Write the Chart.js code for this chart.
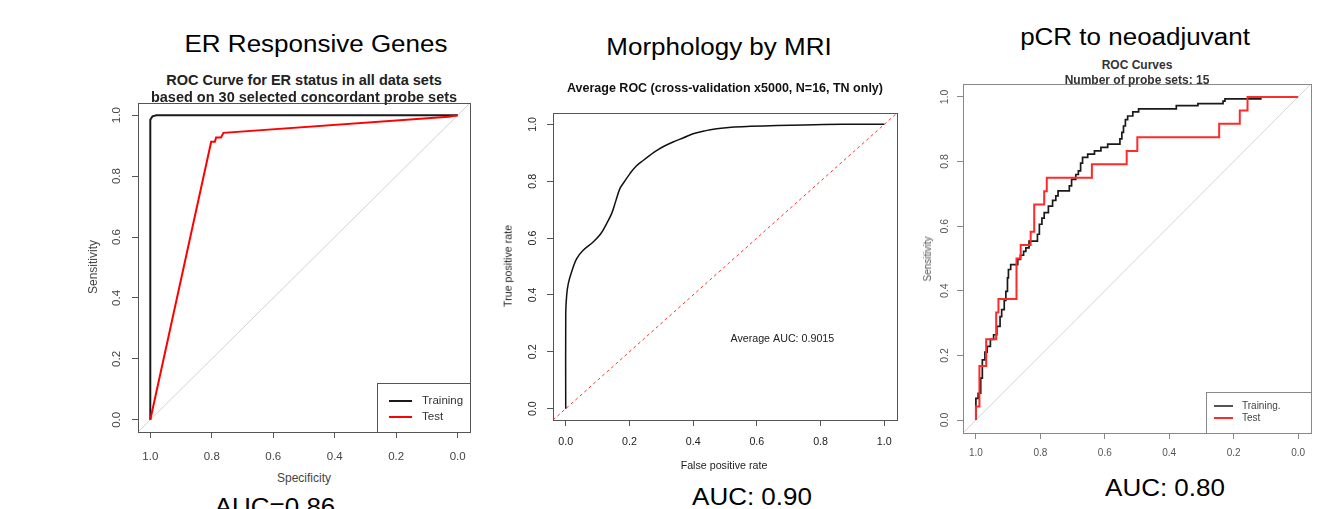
<!DOCTYPE html>
<html>
<head>
<meta charset="utf-8">
<script src="https://cdn.jsdelivr.net/npm/chart.js@4.4.1/dist/chart.umd.min.js"></script>
<style>
  body { margin: 0; background: #fff; width: 1317px; height: 509px; overflow: hidden; position: relative;
         font-family: "Liberation Sans", Arial, sans-serif; }
  canvas { position: absolute; }
  .t { position: absolute; white-space: nowrap; line-height: 1; }
</style>
</head>
<body>
<canvas id="er" width="395" height="375" style="left:85px;top:95px"></canvas>
<canvas id="mri" width="405" height="360" style="left:500px;top:100px"></canvas>
<canvas id="pcr" width="402" height="385" style="left:915px;top:75px"></canvas>
<script>
// ---- data ----
const tickValues = [0, 0.2, 0.4, 0.6, 0.8, 1.0];

// ER responsive genes (specificity, sensitivity)
const erTrainSpec = [1.0, 1.0, 0.993, 0.98, 0.0];
const erTrainSens = [0.0, 0.985, 0.996, 1.0, 1.0];
const erTestSpec = [1.0, 0.802, 0.79, 0.786, 0.77, 0.762, 0.03, 0.0];
const erTestSens = [0.0, 0.913, 0.913, 0.927, 0.927, 0.942, 0.995, 1.0];

// Morphology by MRI (false positive rate, true positive rate)
const mriFpr = [0, 0, 0.003, 0.008, 0.018, 0.034, 0.054, 0.086, 0.11, 0.128, 0.144, 0.157, 0.17, 0.185,
                0.201, 0.22, 0.243, 0.265, 0.285, 0.31, 0.337, 0.37, 0.4, 0.44, 0.474, 0.52, 0.579, 0.663, 0.75, 0.87, 1.0];
const mriTpr = [0, 0.334, 0.40, 0.44, 0.48, 0.527, 0.556, 0.586, 0.615, 0.65, 0.686, 0.73, 0.774, 0.80,
                0.826, 0.852, 0.873, 0.892, 0.908, 0.924, 0.938, 0.953, 0.967, 0.978, 0.985, 0.99, 0.993, 0.996, 0.998, 1.0, 1.0];

// pCR to neoadjuvant (specificity, sensitivity)
const pcrTestSpec = [1.0, 1.0, 0.989, 0.989, 0.968, 0.968, 0.937, 0.937, 0.93, 0.93, 0.874, 0.874, 0.861, 0.861,
                     0.83, 0.83, 0.819, 0.819, 0.788, 0.788, 0.78, 0.78, 0.64, 0.64, 0.532, 0.532, 0.499, 0.499,
                     0.245, 0.245, 0.181, 0.181, 0.157, 0.157, 0.0];
const pcrTestSens = [0, 0.042, 0.042, 0.167, 0.167, 0.25, 0.25, 0.333, 0.333, 0.375, 0.375, 0.5, 0.5, 0.542,
                     0.542, 0.583, 0.583, 0.667, 0.667, 0.708, 0.708, 0.75, 0.75, 0.792, 0.792, 0.833, 0.833, 0.875,
                     0.875, 0.917, 0.917, 0.958, 0.958, 1.0, 1.0];
const pcrTrainSpec = [1.0, 1.0, 0.993, 0.993, 0.985, 0.985, 0.98, 0.98, 0.972, 0.972, 0.965, 0.965, 0.955, 0.955,
                      0.945, 0.945, 0.935, 0.935, 0.925, 0.925, 0.92, 0.92, 0.912, 0.912, 0.907, 0.907, 0.902, 0.902,
                      0.899, 0.899, 0.892, 0.892, 0.87, 0.87, 0.862, 0.862, 0.852, 0.852, 0.845, 0.845, 0.835, 0.835,
                      0.809, 0.809, 0.803, 0.803, 0.795, 0.795, 0.788, 0.788, 0.775, 0.775, 0.762, 0.762, 0.752, 0.752,
                      0.745, 0.745, 0.71, 0.71, 0.703, 0.703, 0.69, 0.69, 0.682, 0.682, 0.675, 0.675, 0.669, 0.669,
                      0.653, 0.653, 0.632, 0.632, 0.612, 0.612, 0.591, 0.591, 0.553, 0.553, 0.547, 0.547, 0.542, 0.542,
                      0.536, 0.536, 0.529, 0.529, 0.513, 0.513, 0.495, 0.495, 0.378, 0.378, 0.311, 0.311, 0.233, 0.233,
                      0.227, 0.227, 0.113];
const pcrTrainSens = [0, 0.067, 0.067, 0.083, 0.083, 0.13, 0.13, 0.186, 0.186, 0.21, 0.21, 0.228, 0.228, 0.25,
                      0.25, 0.264, 0.264, 0.29, 0.29, 0.32, 0.32, 0.342, 0.342, 0.37, 0.37, 0.398, 0.398, 0.44,
                      0.44, 0.466, 0.466, 0.481, 0.481, 0.497, 0.497, 0.51, 0.51, 0.522, 0.522, 0.533, 0.533, 0.554,
                      0.554, 0.575, 0.575, 0.606, 0.606, 0.625, 0.625, 0.642, 0.642, 0.662, 0.662, 0.68, 0.68, 0.694,
                      0.694, 0.709, 0.709, 0.725, 0.725, 0.745, 0.745, 0.76, 0.76, 0.771, 0.771, 0.795, 0.795, 0.813,
                      0.813, 0.823, 0.823, 0.833, 0.833, 0.844, 0.844, 0.854, 0.854, 0.87, 0.87, 0.89, 0.89, 0.91,
                      0.91, 0.93, 0.93, 0.941, 0.941, 0.954, 0.954, 0.963, 0.963, 0.973, 0.973, 0.979, 0.979, 0.987,
                      0.987, 0.994, 0.994];

// chance lines (abline across the whole plot box)
const chanceDesc = { x: [1.04, -0.04], y: [-0.04, 1.04] };
const chanceAsc = { x: [-0.04, 1.04], y: [-0.04, 1.04] };

const FONT = '"Liberation Sans", Arial, sans-serif';
const pts = (xs, ys) => xs.map((x, i) => ({ x, y: ys[i] }));

// plot box, R-style legend and in-plot note
const frame = {
  id: 'frame',
  afterDatasetsDraw(chart, args, o) {
    const { ctx, chartArea: a } = chart;
    ctx.save();
    if (o.legend) {
      const L = o.legend;
      const x0 = a.right - L.w, y0 = a.bottom - L.h;
      ctx.fillStyle = '#fff';
      ctx.fillRect(x0, y0, L.w, L.h);
      ctx.strokeStyle = o.color;
      ctx.lineWidth = 1;
      ctx.strokeRect(x0 + 0.5, y0 + 0.5, L.w, L.h);
      L.items.forEach((it, i) => {
        const y = a.bottom - L.rows[i];
        ctx.strokeStyle = it.color;
        ctx.lineWidth = it.width;
        ctx.beginPath();
        ctx.moveTo(a.right - L.line[0], y);
        ctx.lineTo(a.right - L.line[1], y);
        ctx.stroke();
        ctx.fillStyle = o.textColor;
        ctx.font = L.size + 'px ' + FONT;
        ctx.textBaseline = 'middle';
        ctx.textAlign = 'left';
        ctx.fillText(it.label, a.right - L.text, y);
      });
    }
    if (o.note) {
      ctx.fillStyle = o.textColor;
      ctx.font = o.note.size + 'px ' + FONT;
      ctx.textAlign = 'center';
      ctx.textBaseline = 'middle';
      ctx.fillText(o.note.text, chart.scales.x.getPixelForValue(o.note.x), chart.scales.y.getPixelForValue(o.note.y));
    }
    ctx.strokeStyle = o.color;
    ctx.lineWidth = 1;
    ctx.strokeRect(Math.round(a.left) + 0.5, Math.round(a.top) + 0.5, Math.round(a.right - a.left), Math.round(a.bottom - a.top));
    ctx.restore();
  }
};

function axis(o) {
  return {
    type: 'linear', min: -0.04, max: 1.04, reverse: !!o.reverse, position: o.pos,
    afterBuildTicks: s => { s.ticks = tickValues.map(v => ({ value: v })); },
    afterFit: s => {
      if (o.pos === 'left') s.width = o.size; else s.height = o.size;
      s.paddingTop = s.paddingBottom = s.paddingLeft = s.paddingRight = 0;
    },
    grid: { display: true, drawOnChartArea: false, drawTicks: true, tickLength: 6, tickColor: o.line, color: o.line },
    border: { display: false },
    ticks: {
      color: o.color, font: { family: FONT, size: o.font }, padding: o.pad,
      minRotation: o.rot || 0, maxRotation: o.rot || 0, crossAlign: 'center', autoSkip: false,
      callback: v => Number(v).toFixed(1)
    }
  };
}

function rocChart(id, g) {
  return new Chart(document.getElementById(id), {
    type: 'scatter',
    data: { datasets: g.datasets },
    options: {
      responsive: false, animation: false,
      layout: { padding: { top: g.padTop, right: g.padRight, left: 0, bottom: 0 } },
      elements: { point: { radius: 0 }, line: { tension: 0 } },
      plugins: { legend: { display: false }, tooltip: { enabled: false }, frame: g.frame },
      scales: { x: g.x, y: g.y }
    },
    plugins: [frame]
  });
}

const line = (data, color, width, extra) => Object.assign({ data, showLine: true, borderColor: color, borderWidth: width, fill: false }, extra || {});

// ---- ER Responsive Genes ----
rocChart('er', {
  padTop: 8, padRight: 10,
  datasets: [
    line(pts(erTestSpec, erTestSens), '#ff0000', 2),
    line(pts(erTrainSpec, erTrainSens), '#1a1a1a', 2),
    line(pts(chanceDesc.x, chanceDesc.y), '#d3d3d3', 1)
  ],
  x: axis({ pos: 'bottom', reverse: true, size: 38, font: 11.5, pad: 19, color: '#444', line: '#555' }),
  y: axis({ pos: 'left', size: 53, font: 11.5, pad: 7, rot: 90, color: '#444', line: '#555' }),
  frame: {
    color: '#555', textColor: '#333',
    legend: { w: 93, h: 49, rows: [31, 15], line: [81, 58], text: 48, size: 11.5,
              items: [{ label: 'Training', color: '#1a1a1a', width: 2 }, { label: 'Test', color: '#ff0000', width: 2 }] }
  }
});

// ---- Morphology by MRI ----
rocChart('mri', {
  padTop: 13, padRight: 8,
  datasets: [
    line(pts(mriFpr, mriTpr), '#111', 1.5, { tension: 0.35 }),
    line(pts(chanceAsc.x, chanceAsc.y), '#ff3030', 1, { borderDash: [3, 3] })
  ],
  x: axis({ pos: 'bottom', size: 40, font: 10.7, pad: 16, color: '#222', line: '#555' }),
  y: axis({ pos: 'left', size: 53, font: 10.7, pad: 6.5, rot: 90, color: '#222', line: '#555' }),
  frame: { color: '#555', textColor: '#222', note: { text: 'Average AUC: 0.9015', x: 0.68, y: 0.246, size: 10.7 } }
});

// ---- pCR to neoadjuvant ----
rocChart('pcr', {
  padTop: 9, padRight: 6,
  datasets: [
    line(pts(pcrTestSpec, pcrTestSens), '#ff2a2a', 2),
    line(pts(pcrTrainSpec, pcrTrainSens), '#1a1a1a', 1.7),
    line(pts(chanceDesc.x, chanceDesc.y), '#d6d6d6', 1)
  ],
  x: axis({ pos: 'bottom', reverse: true, size: 27, font: 10, pad: 14.5, color: '#555', line: '#888' }),
  y: axis({ pos: 'left', size: 48, font: 10.5, pad: 5, rot: 90, color: '#555', line: '#888' }),
  frame: {
    color: '#888', textColor: '#444',
    legend: { w: 105, h: 41, rows: [27, 15], line: [97, 78], text: 69, size: 10,
              items: [{ label: 'Training.', color: '#1a1a1a', width: 1.5 }, { label: 'Test', color: '#ff2a2a', width: 2 }] }
  }
});

// ---- page text ----
function text(str, cx, cy, size, opt) {
  opt = opt || {};
  const d = document.createElement('div');
  d.className = 't';
  d.textContent = str;
  d.style.left = cx + 'px';
  d.style.top = cy + 'px';
  d.style.fontSize = size + 'px';
  d.style.fontWeight = opt.bold ? 'bold' : 'normal';
  d.style.color = opt.color || '#000';
  d.style.transform = 'translate(-50%,-50%) rotate(' + (opt.rot || 0) + 'deg) scaleX(' + (opt.sx || 1) + ')';
  document.body.appendChild(d);
}

text('ER Responsive Genes', 316, 43.5, 23, { sx: 1.13 });
text('Morphology by MRI', 719, 47, 23, { sx: 1.13 });
text('pCR to neoadjuvant', 1135, 37, 23, { sx: 1.13 });
text('AUC=0.86', 275, 507, 23, { sx: 1.13 });
text('AUC: 0.90', 752, 497, 23, { sx: 1.13 });
text('AUC: 0.80', 1165, 488, 23, { sx: 1.13 });

text('ROC Curve for ER status in all data sets', 304, 80, 14.5, { bold: true, color: '#222' });
text('based on 30 selected concordant probe sets', 304, 97, 14.5, { bold: true, color: '#222' });
text('Specificity', 304, 478, 12, { color: '#444' });
text('Sensitivity', 93, 267, 12, { color: '#444', rot: -90 });

text('Average ROC (cross-validation x5000, N=16, TN only)', 725, 88, 12.5, { bold: true, color: '#111' });
text('False positive rate', 724, 465, 10.7, { color: '#222' });
text('True positive rate', 508, 266, 10.7, { color: '#222', rot: -90 });

text('ROC Curves', 1137, 65, 12, { bold: true, color: '#333' });
text('Number of probe sets: 15', 1137, 80, 12, { bold: true, color: '#333' });
text('Sensitivity', 928, 259, 10, { color: '#555', rot: -90 });
</script>
</body>
</html>
